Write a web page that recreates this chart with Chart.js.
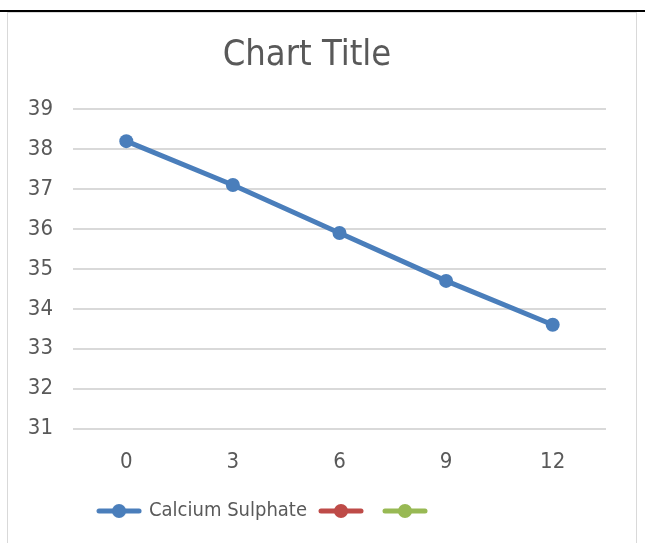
<!DOCTYPE html>
<html>
<head>
<meta charset="utf-8">
<script src="https://cdn.jsdelivr.net/npm/chart.js@4"></script>
<style>
  html, body { margin: 0; padding: 0; background: #fff; }
  body { width: 645px; height: 543px; position: relative; overflow: hidden; }
  #topline { position: absolute; left: 0; top: 10px; width: 645px; height: 2px; background: #000; }
  #frame { position: absolute; left: 7px; top: 12px; width: 628px; height: 540px; border: 1px solid #d9d9d9; background: #fff; }
  #wrap { position: absolute; left: 0; top: 0; width: 628px; height: 530px; }
</style>
</head>
<body>
<div id="topline"></div>
<div id="frame"><div id="wrap"><canvas id="chart"></canvas></div></div>
<script>
//data
var categories = ["0", "3", "6", "9", "12"];
var calcium_sulphate = [38.2, 37.1, 35.9, 34.7, 33.6];
var series_names = ["Calcium Sulphate", "", ""];
var series_colors = ["#4a7ebb", "#be4b48", "#98b954"];
var y_min = 31;
var y_max = 39;

const FONT = "'Liberation Sans Narrow', 'DejaVu Sans Condensed', 'Roboto', sans-serif";
const TEXT_COLOR = "#595959";
const LEGEND_SHIFT = 40; //excel legend sits left of centre

//legend swatch: line with a dot on it, like excel
function make_swatch(color) {
  var c = document.createElement("canvas");
  c.width = 46;
  c.height = 16;
  var g = c.getContext("2d");
  g.strokeStyle = color;
  g.lineWidth = 5;
  g.lineCap = "round";
  g.beginPath();
  g.moveTo(3, 8);
  g.lineTo(43, 8);
  g.stroke();
  g.fillStyle = color;
  g.beginPath();
  g.arc(23, 8, 7, 0, Math.PI * 2);
  g.fill();
  return c;
}

const datasets = series_names.map(function(name, i) {
  return {
    label: name,
    data: i === 0 ? calcium_sulphate : [],
    borderColor: series_colors[i],
    backgroundColor: series_colors[i],
    borderWidth: 5,
    pointRadius: 7,
    pointHoverRadius: 7,
    pointBorderWidth: 0,
    tension: 0,
    fill: false
  };
});

const shiftLegend = {
  id: "shiftLegend",
  afterLayout: function(ch) {
    ch.legend.right -= LEGEND_SHIFT * 2;
  }
};

const ctx = document.getElementById("chart");
const chart = new Chart(ctx, {
  type: "line",
  data: { labels: categories, datasets: datasets },
  plugins: [shiftLegend],
  options: {
    responsive: true,
    maintainAspectRatio: false,
    animation: false,
    layout: { padding: { top: 6, right: 30, bottom: 12, left: 0 } },
    plugins: {
      title: {
        display: true,
        text: "Chart Title",
        color: TEXT_COLOR,
        font: { family: FONT, size: 36, weight: "normal" },
        padding: { top: 15, bottom: 32 }
      },
      legend: {
        position: "bottom",
        labels: {
          color: TEXT_COLOR,
          font: { family: FONT, size: 20 },
          usePointStyle: true,
          pointStyleWidth: 40,
          padding: 14,
          generateLabels: function(ch) {
            return ch.data.datasets.map(function(ds, i) {
              return {
                text: ds.label,
                fontColor: TEXT_COLOR,
                pointStyle: make_swatch(series_colors[i]),
                datasetIndex: i,
                lineWidth: 0,
                hidden: false
              };
            });
          }
        }
      },
      tooltip: { enabled: false }
    },
    scales: {
      x: {
        type: "category",
        offset: true,
        grid: { display: false },
        border: { display: false },
        ticks: { color: TEXT_COLOR, font: { family: FONT, size: 22 }, padding: 12 }
      },
      y: {
        min: y_min,
        max: y_max,
        ticks: { stepSize: 1, color: TEXT_COLOR, font: { family: FONT, size: 22 }, padding: 20 },
        grid: { color: "#d9d9d9", lineWidth: 2, drawTicks: false },
        border: { display: false },
        afterFit: function(scale) { scale.width = 65; }
      }
    }
  }
});
</script>
</body>
</html>
